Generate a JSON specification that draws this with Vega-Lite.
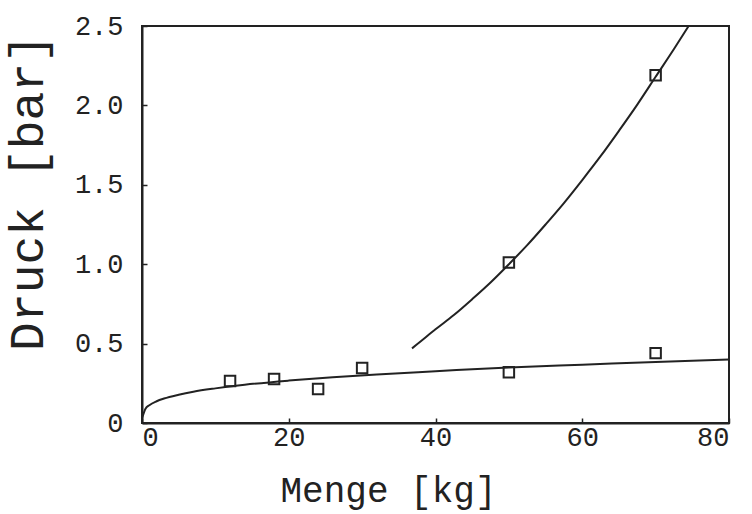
{
  "$schema": "https://vega.github.io/schema/vega-lite/v6.json",
  "width": 587,
  "height": 397,
  "autosize": {"type": "none"},
  "padding": {"left": 142, "top": 26, "right": 23, "bottom": 91},
  "background": "white",
  "config": {
    "view": {"stroke": "#222", "strokeWidth": 2},
    "font": "Liberation Mono"
  },
  "datasets": {
    "pts": [
      {"menge": 12, "druck": 0.264, "serie": "A"},
      {"menge": 18, "druck": 0.277, "serie": "A"},
      {"menge": 24, "druck": 0.214, "serie": "A"},
      {"menge": 30, "druck": 0.346, "serie": "A"},
      {"menge": 50, "druck": 0.32, "serie": "A"},
      {"menge": 70, "druck": 0.44, "serie": "A"},
      {"menge": 50, "druck": 1.01, "serie": "B"},
      {"menge": 70, "druck": 2.19, "serie": "B"}
    ],
    "curves": [
      {"menge": 0, "druck": 0.03, "serie": "A"},
      {"menge": 0.5, "druck": 0.092, "serie": "A"},
      {"menge": 1, "druck": 0.112, "serie": "A"},
      {"menge": 2, "druck": 0.137, "serie": "A"},
      {"menge": 3, "druck": 0.154, "serie": "A"},
      {"menge": 5, "druck": 0.178, "serie": "A"},
      {"menge": 7, "druck": 0.197, "serie": "A"},
      {"menge": 10, "druck": 0.218, "serie": "A"},
      {"menge": 14, "druck": 0.241, "serie": "A"},
      {"menge": 20, "druck": 0.267, "serie": "A"},
      {"menge": 26, "druck": 0.288, "serie": "A"},
      {"menge": 32, "druck": 0.306, "serie": "A"},
      {"menge": 40, "druck": 0.326, "serie": "A"},
      {"menge": 50, "druck": 0.35, "serie": "A"},
      {"menge": 60, "druck": 0.367, "serie": "A"},
      {"menge": 70, "druck": 0.384, "serie": "A"},
      {"menge": 80, "druck": 0.4, "serie": "A"},
      {"menge": 36.8, "druck": 0.47, "serie": "B"},
      {"menge": 38, "druck": 0.515, "serie": "B"},
      {"menge": 40, "druck": 0.59, "serie": "B"},
      {"menge": 42.5, "druck": 0.68, "serie": "B"},
      {"menge": 45, "druck": 0.78, "serie": "B"},
      {"menge": 47.5, "druck": 0.885, "serie": "B"},
      {"menge": 50, "druck": 1.0, "serie": "B"},
      {"menge": 52.5, "druck": 1.12, "serie": "B"},
      {"menge": 55, "druck": 1.25, "serie": "B"},
      {"menge": 57.5, "druck": 1.385, "serie": "B"},
      {"menge": 60, "druck": 1.53, "serie": "B"},
      {"menge": 62.5, "druck": 1.68, "serie": "B"},
      {"menge": 65, "druck": 1.84, "serie": "B"},
      {"menge": 67.5, "druck": 2.005, "serie": "B"},
      {"menge": 70, "druck": 2.18, "serie": "B"},
      {"menge": 72.5, "druck": 2.355, "serie": "B"},
      {"menge": 74.5, "druck": 2.5, "serie": "B"}
    ]
  },
  "encoding": {
    "x": {
      "field": "menge",
      "type": "quantitative",
      "scale": {"domain": [0, 80], "nice": false, "zero": false},
      "axis": {
        "title": "Menge [kg]",
        "values": [0, 20, 40, 60, 80],
        "grid": false,
        "domainColor": "#222",
        "domainWidth": 2,
        "tickColor": "#222",
        "tickWidth": 1.5,
        "tickSize": -5,
        "labelFont": "Liberation Mono",
        "labelFontSize": 27,
        "labelColor": "#222",
        "labelPadding": 6,
        "titleFont": "Liberation Mono",
        "titleFontSize": 36,
        "titleFontWeight": "normal",
        "titleColor": "#222",
        "titleX": 246,
        "titleY": 78,
        "titleBaseline": "alphabetic",
        "titleAnchor": "middle"
      }
    },
    "y": {
      "field": "druck",
      "type": "quantitative",
      "scale": {"domain": [0, 2.5], "nice": false},
      "axis": {
        "title": "Druck [bar]",
        "values": [0, 0.5, 1, 1.5, 2, 2.5],
        "labelExpr": "datum.value == 0 ? '0' : format(datum.value, '.1f')",
        "grid": false,
        "domainColor": "#222",
        "domainWidth": 2,
        "tickColor": "#222",
        "tickWidth": 1.5,
        "tickSize": -5,
        "labelFont": "Liberation Mono",
        "labelFontSize": 27,
        "labelColor": "#222",
        "labelPadding": 24,
        "titleFont": "Liberation Mono",
        "titleFontSize": 48,
        "titleFontWeight": "normal",
        "titleColor": "#222",
        "titleX": -114,
        "titleY": 166,
        "titleBaseline": "middle",
        "titleAngle": -90
      }
    }
  },
  "layer": [
    {
      "data": {"name": "curves"},
      "mark": {"type": "line", "color": "#222", "strokeWidth": 2, "clip": true, "interpolate": "monotone"},
      "encoding": {"detail": {"field": "serie"}}
    },
    {
      "data": {"name": "pts"},
      "mark": {"type": "point", "shape": "square", "filled": false, "color": "#222", "opacity": 1, "strokeWidth": 2, "size": 110}
    }
  ]
}
